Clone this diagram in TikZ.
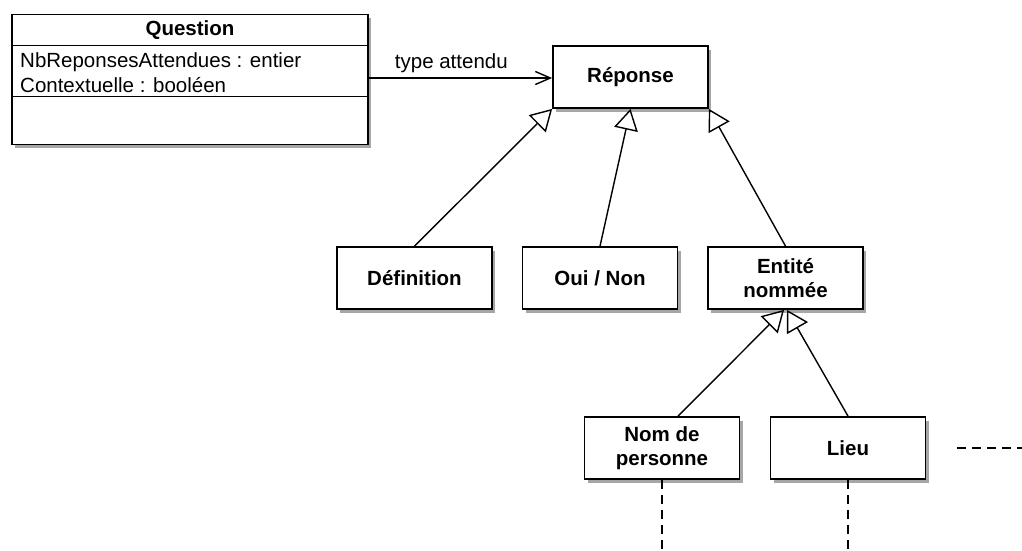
\documentclass[tikz,border=0pt]{standalone}
\usepackage{fontspec}
\setmainfont{Liberation Sans}
\usetikzlibrary{arrows.meta,shadows}
\begin{document}
\begin{tikzpicture}[x=1pt,y=-1pt,
  font=\fontsize{20.5}{24}\selectfont,
  shadowed/.style={drop shadow={shadow xshift=3pt, shadow yshift=-3.5pt, fill=black, opacity=0.35}},
  cls/.style={draw, line width=1.8pt, fill=white, shadowed,
    minimum width=155pt, minimum height=62pt, inner sep=0pt,
    align=center, font=\fontsize{20.5}{24}\selectfont\bfseries},
  gen/.style={line width=1.4pt, -{Triangle[open, length=21pt, width=24pt, line width=1.4pt]}},
  assoc/.style={line width=1.4pt, -{Straight Barb[length=15pt, width=13pt, line width=1.4pt]}},
  lifeline/.style={line width=1.4pt, dash pattern=on 9pt off 6pt},
]
\useasboundingbox (0,0) rectangle (1022,550);

% class Question with its three compartments
\node (q) [draw, line width=1.8pt, fill=white, shadowed,
  minimum width=356pt, minimum height=130pt, inner sep=0pt] at (190,79.5) {};
\draw[line width=1.4pt] (q.north west) ++(0,32) -- ++(356,0);
\draw[line width=1.4pt] (q.north west) ++(0,83) -- ++(356,0);
\node (qtitle) [font=\fontsize{20.5}{24}\selectfont\bfseries] at (190,30) {Question};
\node (qattr1) [anchor=base west, inner sep=0pt] at (20,67) {NbReponsesAttendues : entier};
\node (qattr2) [anchor=base west, inner sep=0pt] at (20,92) {Contextuelle : booléen};

% answer types
\node (rep) [cls] at (630.5,77) {Réponse};
\node (def) [cls] at (414.5,278) {Définition};
\node (oui) [cls] at (600,278) {Oui / Non};
\node (ent) [cls] at (785.5,278) {Entité\\nommée};
\node (nom) [cls] at (662,448) {Nom de\\personne};
\node (lieu) [cls] at (848,448) {Lieu};

% association
\draw[assoc] (q.east |- 0,78) -- node[pos=0.45, above=1pt] (lbl) {type attendu} (rep.west |- 0,78);

% generalisations
\draw[gen] (def.north) -- (rep.south west);
\draw[gen] (oui.north) -- (rep.south);
\draw[gen] (ent.north) -- (rep.south east);
\draw[gen] ([xshift=16pt]nom.north) -- ([xshift=-1.5pt]ent.south);
\draw[gen] (lieu.north) -- ([xshift=1.5pt]ent.south);

% further subclasses left open
\coordinate (nomend) at (662,550);
\coordinate (lieuend) at (848,550);
\coordinate (morea) at (957,448);
\coordinate (moreb) at (1022,448);
\draw[lifeline] (nom.south) -- (nomend);
\draw[lifeline] (lieu.south) -- (lieuend);
\draw[lifeline] (morea) -- (moreb);
\end{tikzpicture}
\end{document}
